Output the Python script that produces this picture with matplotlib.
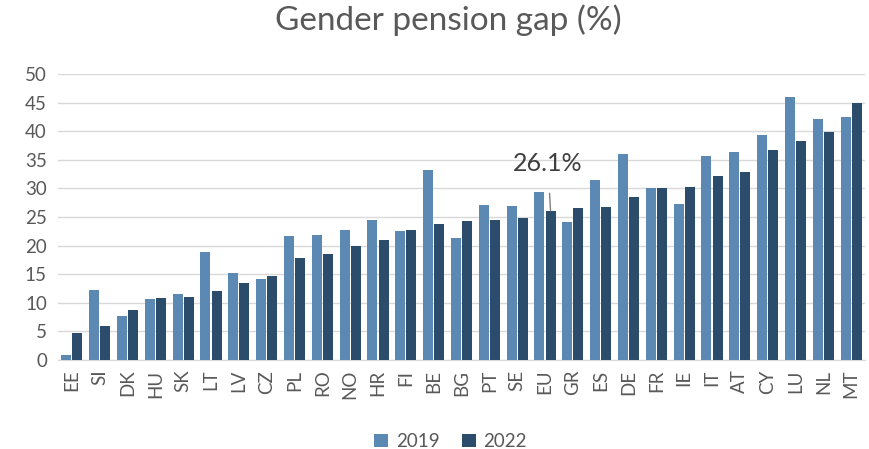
import numpy as np
import matplotlib.pyplot as plt

countries = ["EE", "SI", "DK", "HU", "SK", "LT", "LV", "CZ", "PL", "RO",
             "NO", "HR", "FI", "BE", "BG", "PT", "SE", "EU", "GR", "ES",
             "DE", "FR", "IE", "IT", "AT", "CY", "LU", "NL", "MT"]
gap_2019 = [0.9, 12.3, 7.7, 10.6, 11.6, 18.8, 15.2, 14.2, 21.7, 21.8,
            22.8, 24.4, 22.6, 33.3, 21.3, 27.1, 26.9, 29.4, 24.1, 31.4,
            36.1, 30.0, 27.3, 35.6, 36.3, 39.3, 46.0, 42.1, 42.5]
gap_2022 = [4.7, 6.0, 8.8, 10.9, 11.1, 12.0, 13.4, 14.6, 17.8, 18.6,
            19.9, 21.0, 22.8, 23.8, 24.3, 24.4, 24.9, 26.1, 26.5, 26.8,
            28.5, 30.1, 30.2, 32.2, 32.8, 36.7, 38.3, 39.9, 45.0]

plt.rcParams["font.family"] = ["Lato", "DejaVu Sans"]
txt = "#595959"

fig = plt.figure(figsize=(8.7, 4.49), dpi=100)
ax = fig.add_axes([58 / 870, 1 - 360 / 449, 807 / 870, 286 / 449])

x = np.arange(len(countries))
w = 0.36
ax.bar(x - 0.2, gap_2019, w, color="#5b89b4", label="2019", zorder=3)
ax.bar(x + 0.2, gap_2022, w, color="#2b4d6b", label="2022", zorder=3)

ax.set_xlim(-0.5, len(countries) - 0.5)
ax.set_ylim(0, 50)
ax.set_yticks(range(0, 51, 5))
ax.yaxis.grid(True, color="#d9d9d9", linewidth=1)
ax.set_axisbelow(True)
ax.set_xticks(x)
ax.set_xticklabels(countries, rotation=90)
ax.tick_params(axis="y", length=0, labelsize=13.5, labelcolor=txt, pad=8)
ax.tick_params(axis="x", length=0, labelsize=13.5, labelcolor=txt, pad=7)
for s in ["top", "right", "left"]:
    ax.spines[s].set_visible(False)
ax.spines["bottom"].set_color("#d9d9d9")

eu = countries.index("EU")
ax.annotate("26.1%", xy=(eu + 0.2, gap_2022[eu]), xytext=(eu + 0.1, 34.3),
            ha="center", va="center", fontsize=18, color="#404040",
            arrowprops=dict(arrowstyle="-", color="#808080", lw=1,
                            shrinkA=11, shrinkB=0))

fig.suptitle("Gender pension gap (%)", x=0.515, y=0.99, fontsize=24, color=txt)
fig.legend(loc="lower center", ncol=2, frameon=False, fontsize=13.5,
           labelcolor=txt, handlelength=0.75, handleheight=0.75,
           bbox_to_anchor=(0.518, -0.04), columnspacing=1.2, handletextpad=0.4)

fig.savefig("out.png", dpi=100)
